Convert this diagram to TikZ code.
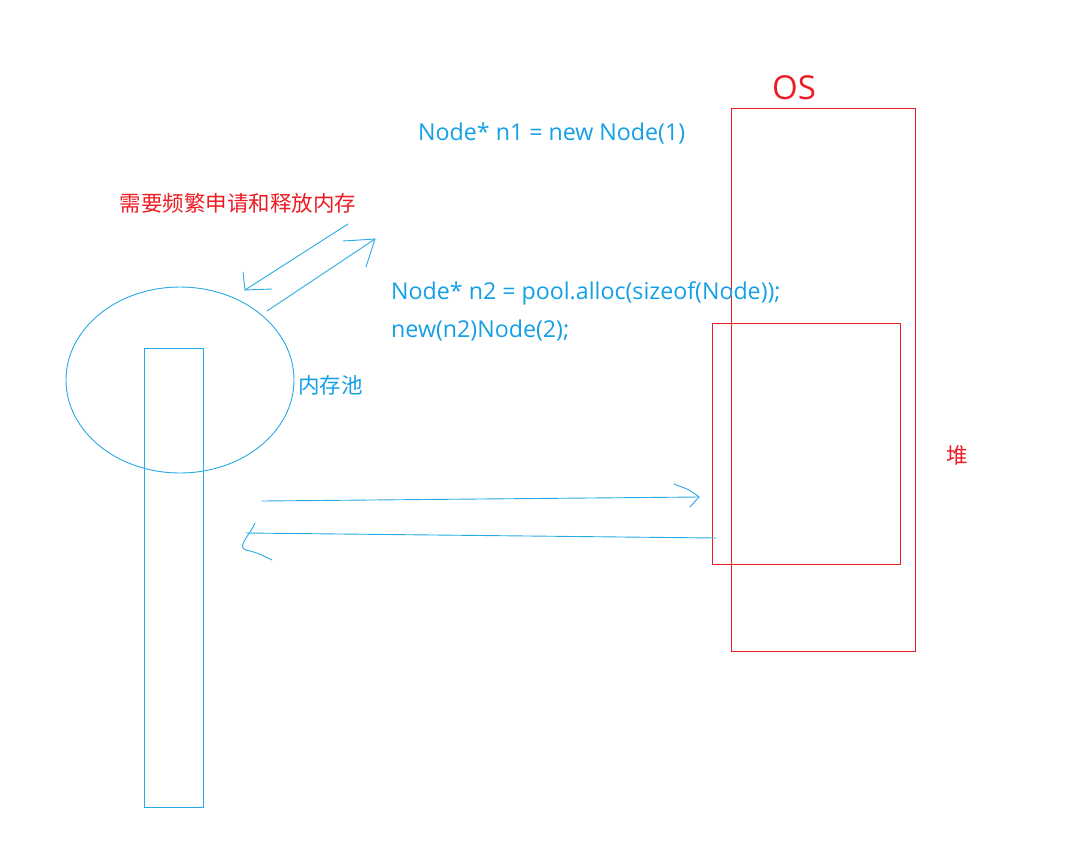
\documentclass[tikz,border=0pt]{standalone}
\usepackage{fontspec}
\usetikzlibrary{shapes.geometric}
\setmainfont{Noto Sans CJK SC}
\newfontfamily\latinf{Open Sans}
\definecolor{skyb}{RGB}{20,160,230}
\definecolor{linb}{RGB}{40,170,228}
\definecolor{myred}{RGB}{237,28,36}
\begin{document}
\begin{tikzpicture}[x=1pt,y=-1pt,
  bluetxt/.style={text=skyb,font=\fontsize{21.5}{25}\selectfont,inner sep=0pt},
  codetxt/.style={text=skyb,font=\latinf\fontsize{23.2}{27}\selectfont,inner sep=0pt},
  redtxt/.style={text=myred,font=\fontsize{21.5}{25}\selectfont,inner sep=0pt},
  bline/.style={draw=linb,line width=0.9pt,line cap=round,line join=round},
  bbox/.style={draw=linb,line width=0.9pt,inner sep=0pt},
  rbox/.style={draw=myred,line width=0.9pt,inner sep=0pt}]
\useasboundingbox (0,0) rectangle (1084,846);
\fill[white] (0,0) rectangle (1084,846);
% shapes
\node[rbox,minimum width=184pt,minimum height=543pt] (os) at (823,379.5) {};
\node[rbox,minimum width=188pt,minimum height=241pt] (heap) at (806,443.5) {};
\node[bbox,ellipse,minimum width=228pt,minimum height=186pt] (pool) at (180,380) {};
\node[inner sep=0pt,minimum width=58pt,minimum height=458pt] (block) at (174,578) {};
\draw[bline,line cap=butt,line join=miter] (block.north west) rectangle (block.south east);
% texts
\node[bluetxt,anchor=west] (pooll) at (298,385) {内存池};
\node[redtxt,anchor=center] (need) at (238,203) {需要频繁申请和释放内存};
\node[codetxt,anchor=west] (n1) at (418,134) {Node* n1 = new Node(1)};
\node[codetxt,anchor=west] (n2) at (391,293) {Node* n2 = pool.alloc(sizeof(Node));};
\node[codetxt,anchor=west] (n3) at (391,331) {new(n2)Node(2);};
\node[text=myred,font=\latinf\fontsize{33}{38}\selectfont,inner sep=0pt] (ostxt) at (794,88) {OS};
\node[redtxt] (heapl) at (957,455) {堆};
% arrows
\coordinate (a1s) at (348,224);
\coordinate (a1e) at (245,290);
\coordinate (a2s) at (267,311);
\coordinate (a2e) at (375,239);
\coordinate (a3s) at (262,501);
\coordinate (a3e) at (699,497);
\coordinate (a4s) at (716,538);
\coordinate (a4e) at (246,533);
\draw[bline] (a1s) -- (a1e);
\draw[bline] (243,272) -- (a1e) -- (272,289);
\draw[bline] (a2s) -- (a2e);
\draw[bline] (343,241) -- (a2e) -- (366,267);
\draw[bline] (a3s) -- (a3e);
\draw[bline] (674,484) .. controls (690,490) .. (a3e) -- (690,507);
\draw[bline] (a4s) -- (a4e);
\draw[bline] (255,523) .. controls (250,535) and (236,547) .. (246,550) .. controls (260,553) and (265,557) .. (272,560);
\end{tikzpicture}
\end{document}
